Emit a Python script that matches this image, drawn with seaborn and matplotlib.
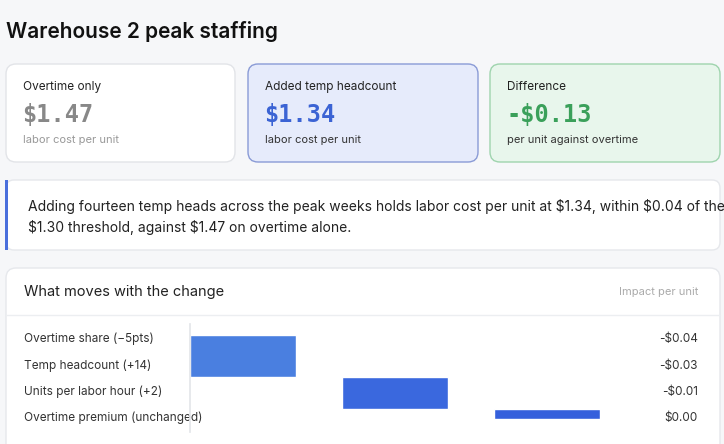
import matplotlib
matplotlib.use("Agg")
import matplotlib.pyplot as plt
import seaborn as sns
import pandas as pd
from matplotlib.patches import FancyBboxPatch, Rectangle

sns.set_theme(style="white")
plt.rcParams['font.family'] = ['Inter', 'DejaVu Sans']
plt.rcParams['text.parse_math'] = False

card_titles = ["Overtime only", "Added temp headcount", "Difference"]
card_values = ["$1.47", "$1.34", "-$0.13"]
card_subs = ["labor cost per unit", "labor cost per unit", "per unit against overtime"]
drivers = ["Overtime share (\u22125pts)", "Temp headcount (+14)", "Units per labor hour (+2)", "Overtime premium (unchanged)"]
impacts = [-0.04, -0.03, -0.01, 0.00]
impact_labels = ["-$0.04", "-$0.03", "-$0.01", "$0.00"]

W, H = 724, 444
fig = plt.figure(figsize=(W/100, H/100), dpi=100)
fig.patch.set_facecolor("#f6f7f9")

def P(x, y):
    return (x / W, 1 - y / H)

def box(x0, y0, x1, y1, fc, ec, r=10, lw=1):
    fx, fy = P(x0, y1)
    p = FancyBboxPatch((fx, fy), (x1 - x0) / W, (y1 - y0) / H,
                       boxstyle=f"round,pad=0,rounding_size={r/W}",
                       transform=fig.transFigure, fc=fc, ec=ec, lw=lw,
                       mutation_aspect=W / H, zorder=0)
    fig.add_artist(p)

fig.text(*P(6, 32), "Warehouse 2 peak staffing", fontsize=15, fontweight="semibold",
         color="#111111", va="center")

cards = [(6, 235, "white", "#e2e4e8", "#999999", "#888888", "#999999"),
         (248, 478, "#e6ebfb", "#8a9bd6", "#333333", "#3b63d4", "#333333"),
         (490, 720, "#e8f6ec", "#9fd4ae", "#333333", "#3aa05a", "#333333")]
for i, (x0, x1, fc, ec, tc, vc, sc) in enumerate(cards):
    box(x0, 64, x1, 162, fc, ec)
    fig.text(*P(x0 + 17, 87), card_titles[i], fontsize=8.5, color="#222222", va="center")
    fig.text(*P(x0 + 16, 115), card_values[i], fontsize=17, fontweight="bold",
             family="DejaVu Sans Mono", color=vc, va="center")
    fig.text(*P(x0 + 17, 140), card_subs[i], fontsize=8, color=sc, va="center")

# callout
box(6, 180, 720, 250, "white", "#e6e8ec", r=8)
fig.add_artist(Rectangle(P(5, 250), 3 / W, 70 / H, transform=fig.transFigure,
                         fc="#4a6fdc", ec="none"))
fig.text(*P(28, 206), "Adding fourteen temp heads across the peak weeks holds labor cost per unit at $1.34, within $0.04 of the",
         fontsize=10, color="#222222", va="center")
fig.text(*P(28, 227), "$1.30 threshold, against $1.47 on overtime alone.",
         fontsize=10, color="#222222", va="center")

# panel
box(6, 268, 720, 460, "white", "#e6e8ec", r=10)
fig.add_artist(plt.Line2D([6 / W, 720 / W], [1 - 315 / H] * 2, transform=fig.transFigure,
                          color="#eceef1", lw=1))
fig.text(*P(24, 292), "What moves with the change", fontsize=10.5, color="#222222", va="center")
fig.text(*P(698, 292), "Impact per unit", fontsize=8, color="#aaaaaa", va="center", ha="right")

rows_y = [339, 366, 392, 418]
for d, lab, y in zip(drivers, impact_labels, rows_y):
    fig.text(*P(24, y), d, fontsize=8.5, color="#333333", va="center")
    fig.text(*P(698, y), lab, fontsize=8.5, color="#333333", va="center", ha="right")

# waterfall
steps = pd.DataFrame({"driver": drivers[:3], "delta": [-v for v in impacts[:3]]})
steps["start"] = steps["delta"].cumsum() - steps["delta"]
ax = fig.add_axes([190 / W, 1 - 432 / H, 410 / W, 108 / H])
ax.set_zorder(5)
ax.bar(range(len(steps)), steps["delta"], bottom=steps["start"], width=0.7,
       color=sns.color_palette(["#4a7fe0", "#3a68de", "#3560dc"]))
ax.set_xlim(-0.35, 2.35)
ax.set_ylim(0.0925, -0.011)
ax.set_facecolor("none")
ax.patch.set_alpha(0)
for s in ["top", "right", "bottom"]:
    ax.spines[s].set_visible(False)
ax.spines["left"].set_color("#e4e6ea")
ax.set_xticks([]); ax.set_yticks([])

fig.savefig("out.png", dpi=100, facecolor=fig.get_facecolor())
